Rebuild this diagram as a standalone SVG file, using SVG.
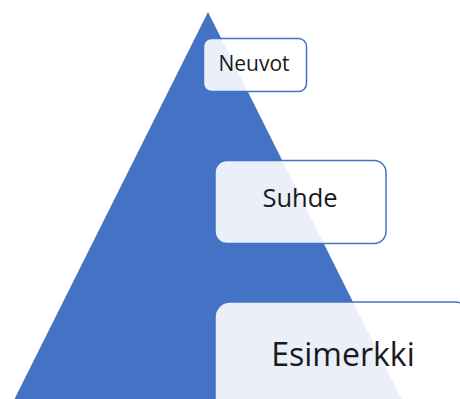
<svg xmlns="http://www.w3.org/2000/svg" width="460" height="399" viewBox="0 0 460 399">
<style>
.box{fill:#ffffff;fill-opacity:0.89;stroke:#4472c4;stroke-width:1.5}
.lbl{font-family:"Open Sans","Noto Sans","Liberation Sans",sans-serif;fill:#1a1a1a;text-anchor:middle}
</style>
<rect width="460" height="399" fill="#ffffff"/>
<g id="pyramid">
<polygon points="208,12 404,404 12,404" fill="#4472c4"/>
</g>
<g id="node-neuvot">
<rect class="box" x="203.5" y="38.5" width="103" height="53" rx="8"/>
<text class="lbl" x="254" y="71" font-size="21">Neuvot</text>
</g>
<g id="node-suhde">
<rect class="box" x="215" y="160.5" width="171" height="83" rx="12"/>
<text class="lbl" x="300" y="207" font-size="25.5">Suhde</text>
</g>
<g id="node-esimerkki">
<rect class="box" x="215" y="302" width="255" height="130" rx="15"/>
<text class="lbl" x="343" y="366" font-size="32">Esimerkki</text>
</g>
</svg>
